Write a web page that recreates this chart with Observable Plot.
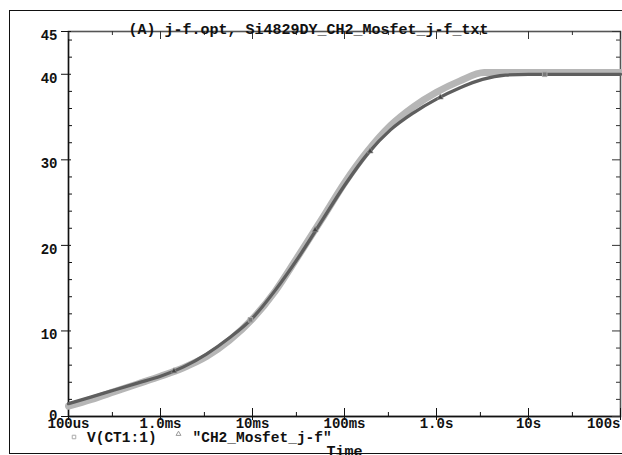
<!DOCTYPE html>
<html><head><meta charset="utf-8">
<script src="https://cdn.jsdelivr.net/npm/d3@7"></script>
<script src="https://cdn.jsdelivr.net/npm/@observablehq/plot@0.6"></script>
<style>
html,body{margin:0;padding:0;background:#fff;overflow:hidden;}
#wrap{position:relative;width:622px;height:455px;}
#outer{position:absolute;left:9px;top:10px;width:700px;height:444px;box-sizing:border-box;border:1.6px solid #111;pointer-events:none;}
</style></head><body>
<div id="wrap"><div id="chart"></div><div id="outer"></div></div>
<script>
const title = "(A) j-f.opt, Si4829DY_CH2_Mosfet_j-f_txt";
const xLabel = "Time";
const seriesNames = ["V(CT1:1)", "\"CH2_Mosfet_j-f\""];
const xTicks = [1e-4, 1e-3, 1e-2, 1e-1, 1, 10, 100];
const xTickLabels = ["100us", "1.0ms", "10ms", "100ms", "1.0s", "10s", "100s"];
const xMinorTicks = [3e-4, 3e-3, 3e-2, 0.3, 3, 30];
const yTicks = [0, 10, 20, 30, 40, 45];
const yMinorTicks = [2, 4, 6, 8, 12, 14, 16, 18, 22, 24, 26, 28, 32, 34, 36, 38, 42, 44];

// V(CT1:1) simulated trace
const simTime  = [1e-4, 1.78e-4, 3.16e-4, 5.62e-4, 1e-3, 1.78e-3, 3.16e-3, 5.62e-3, 1e-2, 1.78e-2, 3.16e-2, 5.62e-2, 0.1, 0.178, 0.316, 0.562, 1, 1.78, 3.16, 5.62, 10, 100];
const simValue = [1.5, 2.3, 3.1, 3.9, 4.7, 5.8, 7.3, 9.2, 11.5, 14.8, 18.6, 22.8, 27.0, 30.7, 33.5, 35.5, 37.1, 38.4, 39.4, 39.9, 40.0, 40.0];
// "CH2_Mosfet_j-f" measured trace
const measTime  = [1e-4, 1.78e-4, 3.16e-4, 5.62e-4, 1e-3, 1.78e-3, 3.16e-3, 5.62e-3, 1e-2, 1.78e-2, 3.16e-2, 5.62e-2, 0.1, 0.178, 0.316, 0.562, 1, 1.78, 3.3, 10, 100];
const measValue = [1.2, 2.0, 2.9, 3.8, 4.7, 5.7, 7.0, 8.9, 11.4, 14.7, 18.8, 23.0, 27.3, 31.0, 34.0, 36.2, 37.9, 39.2, 40.2, 40.2, 40.2];
// trace markers
const simMarkTime = [9.5e-3, 15];
const simMarkValue = [11.3, 40];
const measMarkTime = [1.4e-3, 4.8e-2, 0.19, 1.1];
const measMarkValue = [5.3, 21.8, 31.0, 37.3];

const sim = simTime.map((t, i) => ({t, v: simValue[i]}));
const meas = measTime.map((t, i) => ({t, v: measValue[i]}));
const simMarks = simMarkTime.map((t, i) => ({t, v: simMarkValue[i]}));
const measMarks = measMarkTime.map((t, i) => ({t, v: measMarkValue[i]}));

const width = 622, height = 455;
const mL = 68, mR = 2, mT = 31, mB = 39;
const W = width - mL - mR, H = height - mT - mB;
const font = {fontFamily: "Liberation Mono, Courier New, monospace", fontWeight: "bold", fill: "#111"};

const chart = Plot.plot({
  width, height,
  marginLeft: mL, marginRight: mR, marginTop: mT, marginBottom: mB,
  style: {background: "white"},
  x: {type: "log", domain: [1e-4, 100], axis: null},
  y: {domain: [0, 45], axis: null},
  marks: [
    Plot.frame({stroke: "#555", strokeWidth: 1.6}),
    Plot.ruleY([0], {stroke: "#111", strokeWidth: 1.3}),
    Plot.ruleX([1e-4], {stroke: "#111", strokeWidth: 1.3}),
    // bottom ticks
    Plot.tickX(xTicks, {x: d => d, stroke: "#111", insetTop: H - 8, insetBottom: -4}),
    Plot.tickX(xMinorTicks, {x: d => d, stroke: "#111", insetTop: H - 4}),
    // top ticks
    Plot.tickX(xTicks, {x: d => d, stroke: "#333", insetBottom: H - 8}),
    Plot.tickX(xMinorTicks, {x: d => d, stroke: "#333", insetBottom: H - 4}),
    // left ticks
    Plot.tickY(yTicks, {y: d => d, stroke: "#111", insetLeft: -7, insetRight: W - 3}),
    Plot.tickY(yMinorTicks, {y: d => d, stroke: "#111", insetRight: W - 4}),
    // right ticks
    Plot.tickY(yTicks, {y: d => d, stroke: "#333", insetLeft: W - 8}),
    Plot.tickY(yMinorTicks, {y: d => d, stroke: "#333", insetLeft: W - 4}),
    // tick labels
    Plot.text(yTicks.filter(d => d > 0), {y: d => d, frameAnchor: "left", dx: -11, dy: 4, textAnchor: "end", text: d => String(d), fontSize: 14, ...font}),
    Plot.text(yTicks.filter(d => d === 0), {y: d => d, frameAnchor: "left", dx: -11, dy: -0.5, textAnchor: "end", text: d => String(d), fontSize: 14, ...font}),
    Plot.text(xTicks.slice(0, -1), {x: d => d, frameAnchor: "bottom", dy: 11.5, text: (d, i) => xTickLabels[i], fontSize: 14, ...font}),
    Plot.text(xTicks.slice(-1), {x: d => d, frameAnchor: "bottom", dy: 11.5, textAnchor: "end", text: () => xTickLabels[xTickLabels.length - 1], fontSize: 14, ...font}),
    // traces
    Plot.line(meas, {x: "t", y: "v", stroke: "#b6b6b6", strokeWidth: 7, curve: "monotone-x"}),
    Plot.line(sim, {x: "t", y: "v", stroke: "#5e5e5e", strokeWidth: 3.3, curve: "monotone-x"}),
    Plot.dot(simMarks, {x: "t", y: "v", symbol: "square", r: 2.6, stroke: "#aaa", fill: "#777", strokeWidth: 1}),
    Plot.dot(measMarks, {x: "t", y: "v", symbol: "triangle", r: 2.2, fill: "#444", stroke: "#999", strokeWidth: 0.6}),
    // title
    Plot.text([title], {frameAnchor: "top", dx: -36, dy: -8.5, text: d => d, fontSize: 15, ...font}),
    // legend
    Plot.dot([0], {frameAnchor: "bottom-left", dx: 5.5, dy: 20.5, symbol: "square", r: 2, stroke: "#aaa", fill: "none", strokeWidth: 1}),
    Plot.text([seriesNames[0]], {frameAnchor: "bottom-left", dx: 18.5, dy: 25.5, textAnchor: "start", text: d => d, fontSize: 14.5, ...font}),
    Plot.dot([0], {frameAnchor: "bottom-left", dx: 110, dy: 17.5, symbol: "triangle", r: 1.8, stroke: "#999", fill: "none", strokeWidth: 1}),
    Plot.text([seriesNames[1]], {frameAnchor: "bottom-left", dx: 124, dy: 25.5, textAnchor: "start", text: d => d, fontSize: 14.5, ...font}),
    Plot.text([xLabel], {frameAnchor: "bottom", dy: 39.5, text: d => d, fontSize: 15, ...font})
  ]
});
document.getElementById("chart").appendChild(chart);
</script>
</body></html>
